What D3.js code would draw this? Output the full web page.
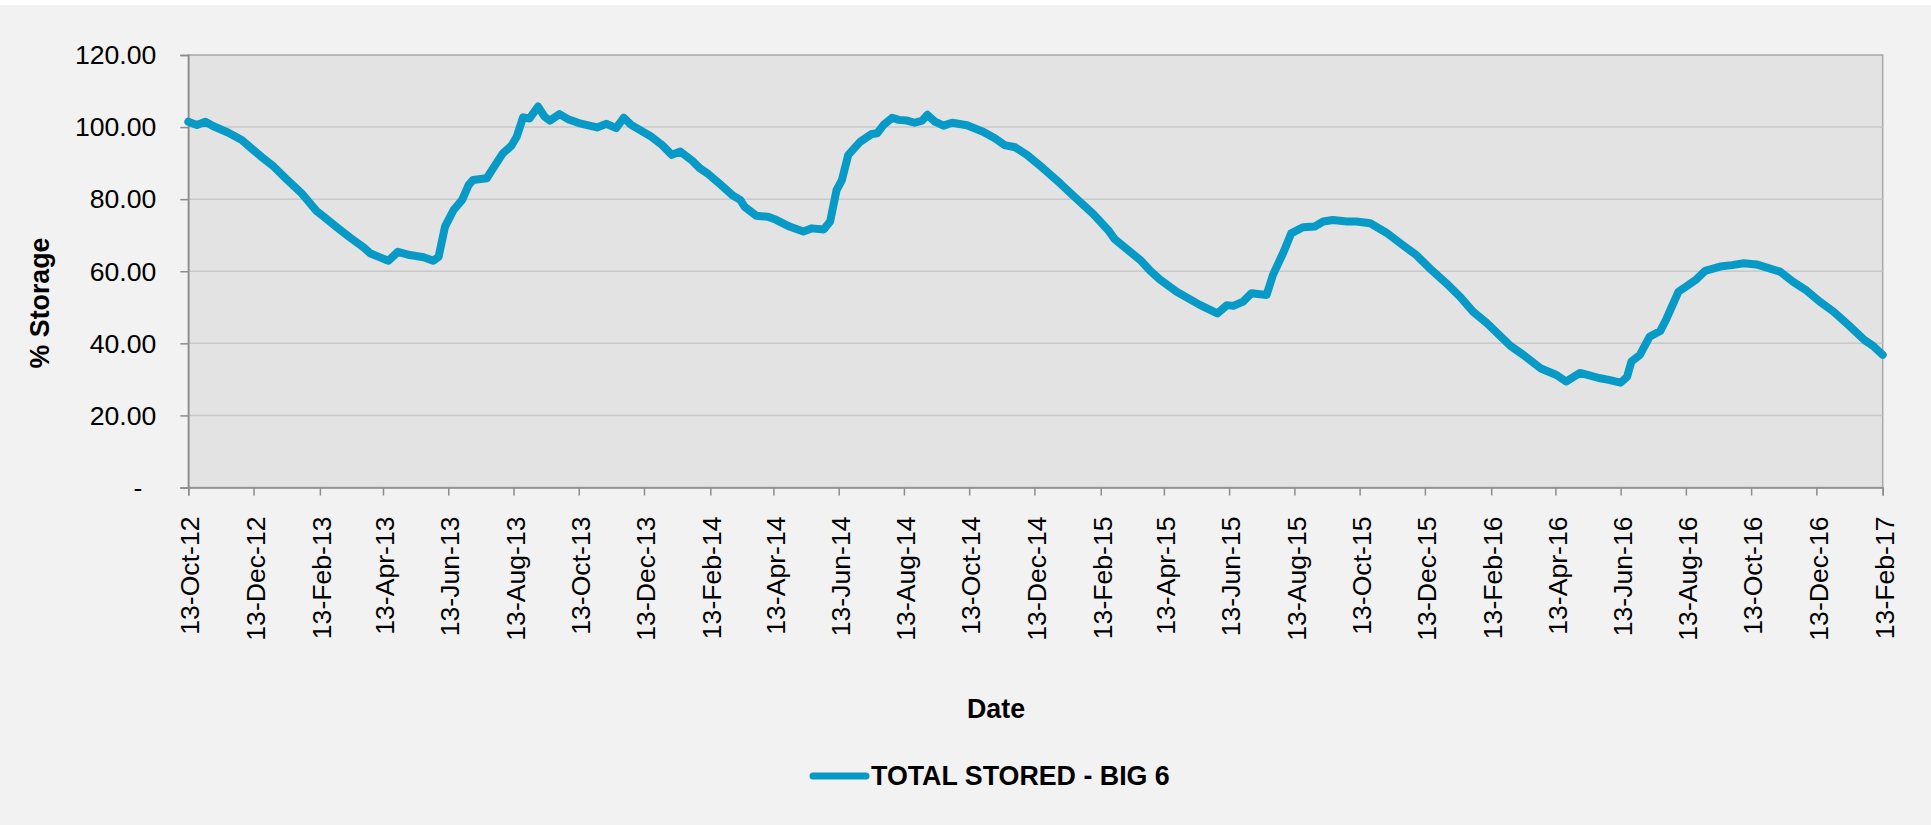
<!DOCTYPE html>
<html>
<head>
<meta charset="utf-8">
<script src="https://cdn.jsdelivr.net/npm/d3@7"></script>
<style>
  html, body { margin: 0; padding: 0; background: #ffffff; }
  svg { display: block; }
  text { font-family: "Liberation Sans", Arial, Helvetica, sans-serif; fill: #000; }
</style>
</head>
<body>
<svg id="chart" width="1931" height="825"></svg>
<script>
// ---- data ----
const dates = [
  "2012-10-13","2012-10-21","2012-10-29","2012-11-05","2012-11-12","2012-11-19","2012-12-02","2012-12-11","2012-12-21",
  "2013-01-01","2013-01-13","2013-01-27","2013-02-10","2013-02-16","2013-03-01","2013-03-13","2013-03-26","2013-04-01",
  "2013-04-09","2013-04-18","2013-04-27","2013-05-08","2013-05-21","2013-05-30","2013-06-04","2013-06-10","2013-06-18",
  "2013-06-26","2013-07-02","2013-07-06","2013-07-19","2013-07-27","2013-08-03","2013-08-11","2013-08-16","2013-08-22",
  "2013-08-28","2013-09-05","2013-09-11","2013-09-16","2013-09-25","2013-10-03","2013-10-13","2013-10-30","2013-11-08",
  "2013-11-17","2013-11-24","2013-12-01","2013-12-20","2013-12-30","2014-01-08","2014-01-16","2014-01-27","2014-02-03",
  "2014-02-11","2014-02-22","2014-03-06","2014-03-13","2014-03-17","2014-03-28","2014-04-08","2014-04-16","2014-04-28",
  "2014-05-11","2014-05-19","2014-05-30","2014-06-05","2014-06-11","2014-06-16","2014-06-22","2014-07-03","2014-07-14",
  "2014-07-19","2014-07-25","2014-08-02","2014-08-08","2014-08-16","2014-08-23","2014-08-30","2014-09-04","2014-09-11",
  "2014-09-19","2014-09-27","2014-10-11","2014-10-26","2014-11-06","2014-11-15","2014-11-25","2014-12-06","2014-12-21",
  "2015-01-06","2015-01-21","2015-02-06","2015-02-20","2015-02-26","2015-03-12","2015-03-22","2015-03-31","2015-04-09",
  "2015-04-25","2015-05-17","2015-06-02","2015-06-11","2015-06-17","2015-06-26","2015-07-04","2015-07-18","2015-07-24",
  "2015-08-03","2015-08-10","2015-08-21","2015-09-01","2015-09-09","2015-09-18","2015-10-01","2015-10-10","2015-10-23",
  "2015-11-07","2015-11-23","2015-12-05","2015-12-19","2016-01-02","2016-01-15","2016-01-27","2016-02-09","2016-03-02",
  "2016-03-14","2016-03-30","2016-04-14","2016-04-23","2016-05-06","2016-05-25","2016-06-03","2016-06-13","2016-06-19",
  "2016-06-23","2016-07-01","2016-07-10","2016-07-20","2016-07-26","2016-08-06","2016-08-14","2016-08-23","2016-08-31",
  "2016-09-14","2016-09-25","2016-10-06","2016-10-18","2016-11-09","2016-11-21","2016-12-04","2016-12-16","2016-12-29",
  "2017-01-13","2017-01-27","2017-02-04","2017-02-13"
];
const storage = [
  101.5,100.6,101.5,100.3,99.4,98.5,96.4,94.1,91.6,
  89.0,85.5,81.6,76.7,75.3,72.2,69.4,66.6,65.0,
  64.0,62.9,65.4,64.5,63.9,62.9,64.0,72.4,77.0,
  79.8,83.9,85.3,85.8,89.5,92.7,94.8,97.3,102.7,
  102.4,105.7,102.9,101.8,103.6,102.2,101.1,99.9,100.9,
  99.7,102.6,100.6,97.3,95.0,92.3,93.2,90.7,88.6,
  87.0,84.2,81.0,79.8,77.9,75.4,75.1,74.2,72.4,
  71.0,71.9,71.6,73.8,82.5,85.3,92.3,95.9,98.1,
  98.3,100.6,102.6,102.0,101.8,101.2,101.8,103.4,101.5,
  100.4,101.2,100.5,98.7,96.9,95.0,94.4,92.3,88.6,
  84.4,80.2,75.9,71.4,68.9,65.5,63.1,60.2,57.8,
  54.3,50.6,48.3,50.6,50.4,51.6,53.9,53.4,59.0,
  65.4,70.5,72.2,72.4,73.8,74.2,73.8,73.8,73.3,
  70.7,67.1,64.5,60.4,56.7,52.9,48.8,45.6,39.3,
  36.8,33.1,31.2,29.4,31.8,30.3,29.8,29.1,30.7,
  34.9,36.8,41.8,43.4,46.9,54.3,55.9,57.8,60.1,
  61.3,61.7,62.2,61.9,59.9,57.1,54.6,51.6,48.8,
  44.8,40.9,39.3,36.8
];
const xTickDates = [
  "2012-10-13","2012-12-13","2013-02-13","2013-04-13","2013-06-13","2013-08-13","2013-10-13","2013-12-13",
  "2014-02-13","2014-04-13","2014-06-13","2014-08-13","2014-10-13","2014-12-13","2015-02-13","2015-04-13",
  "2015-06-13","2015-08-13","2015-10-13","2015-12-13","2016-02-13","2016-04-13","2016-06-13","2016-08-13",
  "2016-10-13","2016-12-13","2017-02-13"
];
const yTicks = [0, 20, 40, 60, 80, 100, 120];
const seriesName = "TOTAL STORED - BIG 6";
const xTitle = "Date";
const yTitle = "% Storage";

// ---- layout ----
const W = 1931, H = 825;
const plot = { left: 188.3, right: 1882.7, top: 55, bottom: 487.5 };
const lineColor = "#079ac6";
const tickFont = 26.6;
const titleFont = 26.8;

const parse = d3.timeParse("%Y-%m-%d");
const data = dates.map((d, i) => ({ date: parse(d), value: storage[i] }));
const tickVals = xTickDates.map(parse);

const svg = d3.select("#chart");

// background
svg.append("rect").attr("x", 0).attr("y", 5).attr("width", W).attr("height", H - 5).attr("fill", "#f2f2f2");

const x = d3.scaleTime()
  .domain([parse("2012-10-13"), parse("2017-02-13")])
  .range([plot.left, plot.right]);
const y = d3.scaleLinear()
  .domain([0, 120])
  .range([plot.bottom, plot.top]);

// plot area
svg.append("rect")
  .attr("x", plot.left).attr("y", plot.top)
  .attr("width", plot.right - plot.left).attr("height", plot.bottom - plot.top)
  .attr("fill", "#e3e3e3").attr("stroke", "#a8a8a8").attr("stroke-width", 1.5);

// gridlines
svg.append("g").selectAll("line")
  .data(yTicks.filter(v => v > 0 && v < 120))
  .join("line")
  .attr("x1", plot.left).attr("x2", plot.right)
  .attr("y1", d => y(d)).attr("y2", d => y(d))
  .attr("stroke", "#c8c8c8").attr("stroke-width", 1.5);

// y axis
const yAxis = svg.append("g")
  .attr("transform", `translate(${plot.left},0)`)
  .call(d3.axisLeft(y).tickValues(yTicks).tickSize(8).tickPadding(24)
    .tickFormat(v => v === 0 ? "-" : d3.format(".2f")(v)));
yAxis.select(".domain").attr("stroke", "#8c8c8c").attr("stroke-width", 1.5);
yAxis.selectAll(".tick line").attr("stroke", "#8c8c8c").attr("stroke-width", 1.5);
yAxis.selectAll(".tick text")
  .attr("font-size", tickFont)
  .attr("font-family", "'Liberation Sans', Arial, sans-serif")
  .attr("fill", "#000")
  .attr("dy", "0.33em")
  .attr("dx", d => d === 0 ? -14 : 0);

// x axis
const xAxis = svg.append("g")
  .attr("transform", `translate(0,${plot.bottom})`)
  .call(d3.axisBottom(x).tickValues(tickVals).tickSize(8)
    .tickFormat(d3.timeFormat("%-d-%b-%y")));
xAxis.select(".domain").attr("stroke", "#8c8c8c").attr("stroke-width", 1.5);
xAxis.selectAll(".tick line").attr("stroke", "#8c8c8c").attr("stroke-width", 1.5);
xAxis.selectAll(".tick text")
  .attr("font-size", tickFont)
  .attr("font-family", "'Liberation Sans', Arial, sans-serif")
  .attr("fill", "#000")
  .attr("text-anchor", "end")
  .attr("transform", "rotate(-90)")
  .attr("x", -29)
  .attr("y", 0)
  .attr("dy", "0.4em");

// line
const line = d3.line()
  .x(d => x(d.date))
  .y(d => y(d.value));
svg.append("path")
  .datum(data)
  .attr("d", line)
  .attr("fill", "none")
  .attr("stroke", lineColor)
  .attr("stroke-width", 8)
  .attr("stroke-linejoin", "round")
  .attr("stroke-linecap", "round");

// axis titles
svg.append("text")
  .attr("transform", "translate(48.5,303) rotate(-90)")
  .attr("text-anchor", "middle")
  .attr("font-size", titleFont).attr("font-weight", "bold")
  .text(yTitle);

svg.append("text")
  .attr("x", 996).attr("y", 718)
  .attr("text-anchor", "middle")
  .attr("font-size", titleFont).attr("font-weight", "bold")
  .text(xTitle);

// legend
svg.append("line")
  .attr("x1", 813).attr("x2", 866).attr("y1", 776).attr("y2", 776)
  .attr("stroke", lineColor).attr("stroke-width", 7).attr("stroke-linecap", "round");
svg.append("text")
  .attr("x", 871).attr("y", 785)
  .attr("font-size", titleFont).attr("font-weight", "bold")
  .text(seriesName);
</script>
</body>
</html>
